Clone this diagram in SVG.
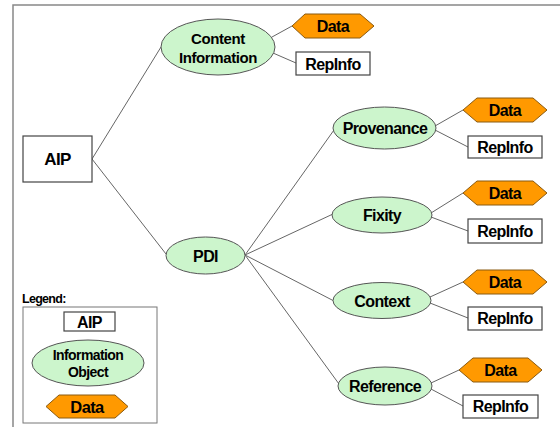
<svg xmlns="http://www.w3.org/2000/svg" width="560" height="427" viewBox="0 0 560 427">
<style>
text{font-family:"Liberation Sans",Arial,sans-serif;font-weight:bold;font-size:16px;fill:#000;text-anchor:middle;dominant-baseline:central;letter-spacing:-0.6px}
.io{fill:#ccf5cc;stroke:#555;stroke-width:1}
.box{fill:#fff;stroke:#444;stroke-width:1.2}
.data{fill:#ff9900;stroke:#8a5a10;stroke-width:1}
.con line{stroke:#666;stroke-width:1}
</style>
<rect x="13" y="5" width="560" height="440" fill="#fff" stroke="#888" stroke-width="1.5"/>
<g class="con">
<line x1="92" y1="159" x2="161" y2="47"/>
<line x1="92" y1="159" x2="166" y2="254"/>
<line x1="272" y1="37" x2="292" y2="26"/>
<line x1="273" y1="53" x2="296" y2="63"/>
<line x1="245" y1="255" x2="334" y2="130"/>
<line x1="245" y1="255" x2="333" y2="214"/>
<line x1="245" y1="255" x2="334" y2="301"/>
<line x1="245" y1="255" x2="339" y2="384"/>
<line x1="435" y1="126" x2="463" y2="110"/>
<line x1="435" y1="130" x2="468" y2="147"/>
<line x1="431" y1="213" x2="463" y2="193"/>
<line x1="431" y1="217" x2="468" y2="231"/>
<line x1="430" y1="297" x2="463" y2="282"/>
<line x1="430" y1="303" x2="468" y2="318"/>
<line x1="431" y1="383" x2="459" y2="370"/>
<line x1="431" y1="389" x2="463" y2="406"/>
</g>
<g id="aip"><rect class="box" x="23" y="136" width="69" height="46"/><text x="57.5" y="159" style="font-size:17px">AIP</text></g>
<g id="content-info"><ellipse class="io" cx="218" cy="47" rx="57" ry="28"/><text x="218" y="38" style="font-size:15px;letter-spacing:-0.4px">Content</text><text x="218" y="57" style="font-size:15px;letter-spacing:-0.4px">Information</text></g>
<g id="ci-data"><polygon class="data" points="292,26 305,14 360,14 374,26 360,38 305,38"/><text x="333" y="26">Data</text></g>
<g id="ci-repinfo"><rect class="box" x="296" y="52" width="74" height="23"/><text x="333" y="64">RepInfo</text></g>
<g id="pdi"><ellipse class="io" cx="205.5" cy="255.5" rx="39.5" ry="18.5"/><text x="205.5" y="256">PDI</text></g>
<g id="provenance"><ellipse class="io" cx="384.5" cy="128" rx="51.5" ry="21"/><text x="385" y="128">Provenance</text></g>
<g id="prov-data"><polygon class="data" points="463,110 477,98 533,98 547,110 533,122 477,122"/><text x="505" y="110">Data</text></g>
<g id="prov-repinfo"><rect class="box" x="468" y="136" width="74" height="22"/><text x="505" y="147">RepInfo</text></g>
<g id="fixity"><ellipse class="io" cx="382" cy="215" rx="50" ry="18"/><text x="382" y="215">Fixity</text></g>
<g id="fix-data"><polygon class="data" points="463,193 477,181 533,181 547,193 533,205 477,205"/><text x="505" y="193">Data</text></g>
<g id="fix-repinfo"><rect class="box" x="468" y="219" width="74" height="24"/><text x="505" y="231">RepInfo</text></g>
<g id="context"><ellipse class="io" cx="382" cy="300.5" rx="49" ry="18"/><text x="382" y="301">Context</text></g>
<g id="ctx-data"><polygon class="data" points="463,282 477,270 533,270 547,282 533,294 477,294"/><text x="505" y="282">Data</text></g>
<g id="ctx-repinfo"><rect class="box" x="468" y="307" width="74" height="23"/><text x="505" y="318.5">RepInfo</text></g>
<g id="reference"><ellipse class="io" cx="385" cy="386" rx="47" ry="19"/><text x="385" y="386">Reference</text></g>
<g id="ref-data"><polygon class="data" points="459,370 473,358 528,358 542,370 528,382 473,382"/><text x="500.5" y="370">Data</text></g>
<g id="ref-repinfo"><rect class="box" x="463" y="395" width="75" height="23"/><text x="500.5" y="406.5">RepInfo</text></g>
<g id="legend">
<text x="22" y="299" style="font-size:12.5px;text-anchor:start;letter-spacing:-0.7px">Legend:</text>
<rect x="23" y="307" width="134" height="116" fill="#fff" stroke="#777" stroke-width="1"/>
<rect class="box" x="64" y="312" width="51" height="19"/><text x="89.5" y="322">AIP</text>
<ellipse class="io" cx="88" cy="363" rx="56" ry="23"/><text x="88" y="355" style="font-size:14px;letter-spacing:-0.6px">Information</text><text x="88" y="372" style="font-size:14px;letter-spacing:-0.6px">Object</text>
<polygon class="data" points="46,406.5 59,395 115,395 128,406.5 115,418 59,418"/><text x="87" y="407" style="font-size:16.5px">Data</text>
</g>
</svg>
